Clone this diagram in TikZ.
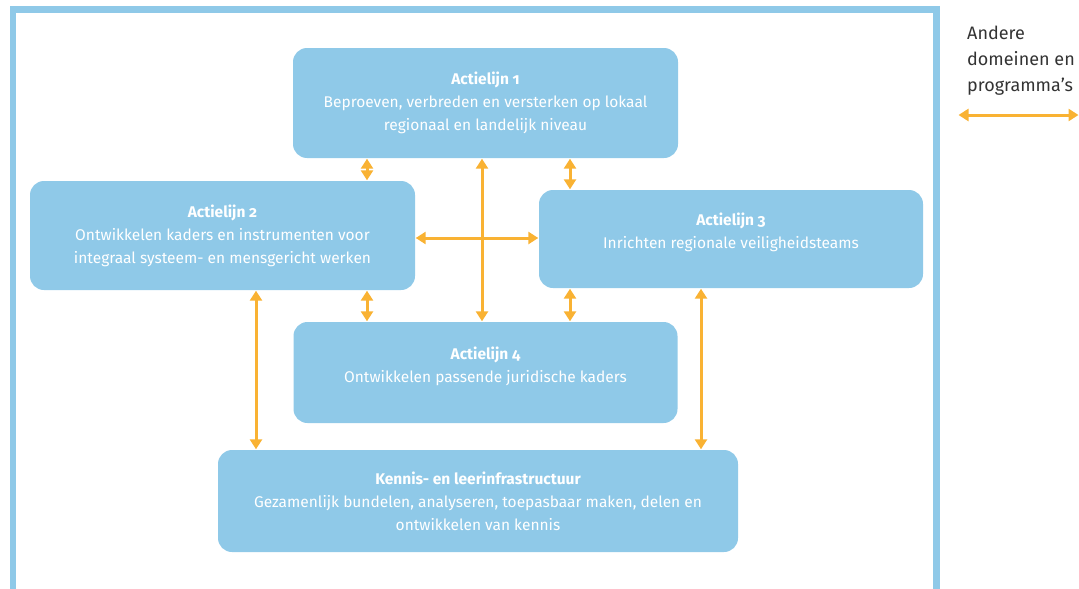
\documentclass[tikz,border=0pt]{standalone}
\usepackage{fontspec}
\setmainfont{Fira Sans}[Numbers=OldStyle]
\usetikzlibrary{arrows.meta,calc}
\definecolor{boxblue}{HTML}{8FC9E8}
\definecolor{arrorange}{HTML}{F9B233}
\definecolor{legendgray}{HTML}{333333}
\begin{document}
\begin{tikzpicture}[x=1pt,y=-1pt,
  blok/.style={fill=boxblue, draw=none, rounded corners=14pt, inner sep=0pt,
    text=white, align=center, font=\fontsize{15.5}{23}\selectfont},
  biarrow/.style={draw=arrorange, line width=3pt,
    {Triangle[width=12pt,length=10pt]}-{Triangle[width=12pt,length=10pt]}, shorten <=0.5pt, shorten >=0.5pt},
  legend/.style={text=legendgray, align=left, anchor=north west, inner sep=0pt,
    font=\fontsize{18}{26}\selectfont}]
\useasboundingbox (0,0) rectangle (1079,589);
% outer frame
\draw[boxblue, line width=6.5pt] (13,600) -- (13,9.5) -- (936.5,9.5) -- (936.5,600);
% blocks
\node[blok, minimum width=385pt, minimum height=110pt] (a1) at (485.5,103)
  {\textbf{Actielijn 1}\\Beproeven, verbreden en versterken op lokaal\\regionaal en landelijk niveau};
\node[blok, minimum width=385pt, minimum height=109pt] (a2) at (222.5,235.5)
  {\textbf{Actielijn 2}\\Ontwikkelen kaders en instrumenten voor\\integraal systeem- en mensgericht werken};
\node[blok, minimum width=384pt, minimum height=98pt] (a3) at (731,239)
  {\textbf{Actielijn 3}\\Inrichten regionale veiligheidsteams\\[-7pt]};
\node[blok, minimum width=384pt, minimum height=101pt] (a4) at (485.5,372.5)
  {\textbf{Actielijn 4}\\Ontwikkelen passende juridische kaders\\[-7pt]};
\node[blok, minimum width=520pt, minimum height=102pt] (k) at (478,501)
  {\textbf{Kennis- en leerinfrastructuur}\\Gezamenlijk bundelen, analyseren, toepasbaar maken, delen en\\ontwikkelen van kennis};
% guide coordinates for connector positions
\coordinate (xl) at (367,0);
\coordinate (xr) at (570,0);
\coordinate (xm) at (482,0);
\coordinate (ym) at (0,238);
\coordinate (xll) at (256,0);
\coordinate (xrr) at (701,0);
% connectors
\draw[biarrow] (a1.south -| xl) -- (a2.north -| xl);
\draw[biarrow] (a1.south -| xr) -- (a3.north -| xr);
\draw[biarrow] (a2.south -| xl) -- (a4.north -| xl);
\draw[biarrow] (a3.south -| xr) -- (a4.north -| xr);
\draw[biarrow] (a1.south -| xm) -- (a4.north -| xm);
\draw[biarrow] (a2.east |- ym) -- (a3.west |- ym);
\draw[biarrow] (a2.south -| xll) -- (k.north -| xll);
\draw[biarrow] (a3.south -| xrr) -- (k.north -| xrr);
% legend
\node[legend] (leg) at (967,26) {Andere\\domeinen en\\programma’s};
\coordinate (la) at (958,115);
\coordinate (lb) at (1079,115);
\draw[biarrow] (la) -- (lb);
\end{tikzpicture}
\end{document}
